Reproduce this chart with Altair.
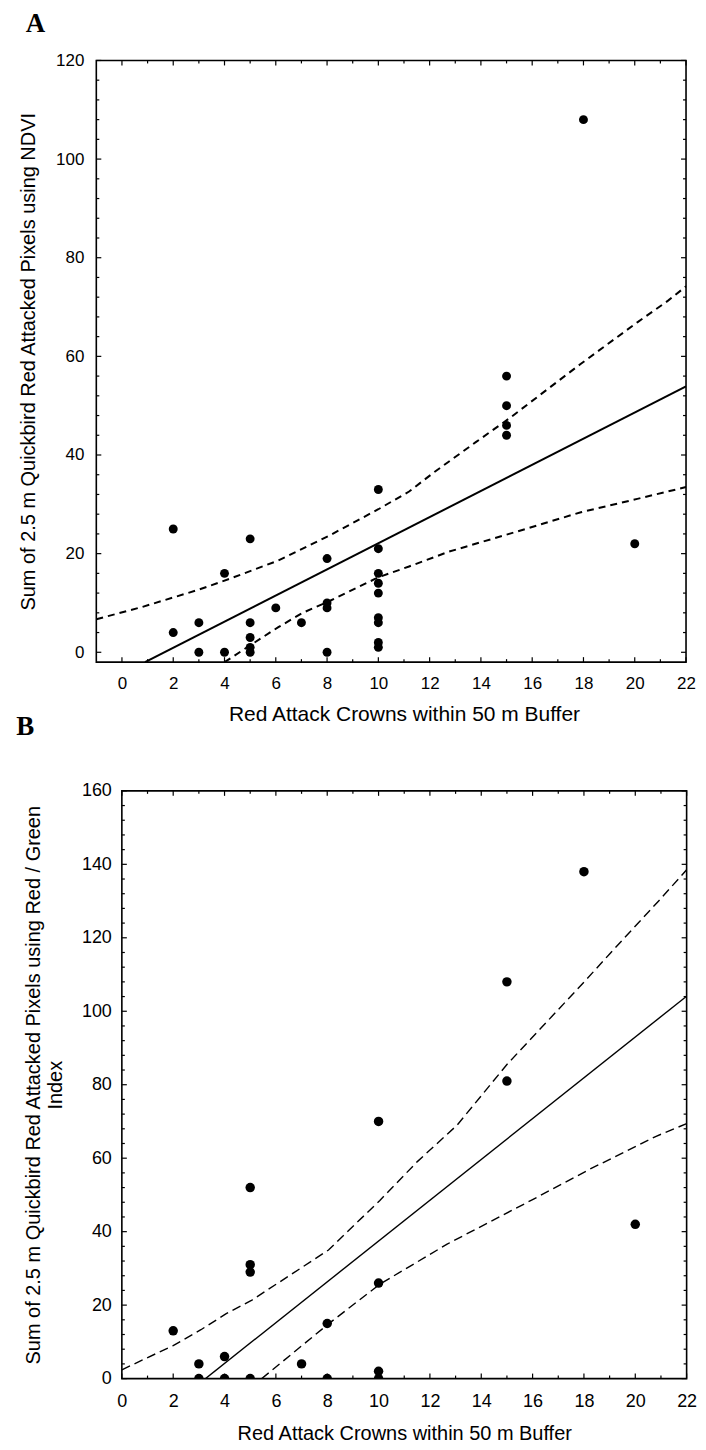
import altair as alt
import pandas as pd

# ---------------- Panel A (NDVI) ----------------
a_x = [2, 2, 3, 3, 4, 4, 5, 5, 5, 5, 5, 6, 7, 8, 8, 8, 8,
       10, 10, 10, 10, 10, 10, 10, 10, 10, 15, 15, 15, 15, 18, 20]
a_y = [25, 4, 6, 0, 16, 0, 23, 6, 3, 1, 0, 9, 6, 19, 10, 9, 0,
       33, 21, 16, 14, 12, 7, 6, 2, 1, 56, 50, 46, 44, 108, 22]
a_fit_x = [0.9, 22.0]
a_fit_y = [-2.0, 53.9]
a_up_x = [-1.0, 0.8, 3.0, 4.2, 6.1, 8.1, 10.0, 11.2, 12.2, 13.8, 15.1, 17.9, 20.1, 21.3, 22.0]
a_up_y = [6.7, 9.2, 12.7, 14.9, 18.6, 23.7, 29.0, 32.6, 36.6, 42.6, 47.4, 58.5, 66.9, 71.3, 74.2]
a_lo_x = [4.0, 5.0, 6.1, 7.05, 8.1, 10.0, 11.2, 12.75, 15.1, 17.9, 20.1, 22.0]
a_lo_y = [-2.0, 1.4, 5.1, 8.0, 10.4, 15.2, 17.4, 20.4, 24.0, 28.4, 31.1, 33.5]

# ---------------- Panel B (Red / Green) ----------------
b_x = [2, 3, 3, 4, 4, 5, 5, 5, 5, 7, 8, 8, 10, 10, 10, 10, 15, 15, 18, 20]
b_y = [13, 4, 0, 6, 0, 52, 31, 29, 0, 4, 15, 0, 70, 26, 2, 0, 108, 81, 138, 42]
b_fit_x = [3.26, 22.0]
b_fit_y = [0.0, 104.1]
b_up_x = [0.0, 2.0, 3.08, 4.05, 5.03, 8.05, 10.05, 11.5, 13.06, 15.0, 18.09, 19.0, 20.92, 22.0]
b_up_y = [2.4, 9.0, 13.3, 17.6, 21.2, 35.0, 48.5, 59.0, 69.0, 85.5, 108.6, 115.6, 130.1, 138.5]
b_lo_x = [5.45, 7.02, 8.05, 10.05, 12.67, 16.02, 18.2, 20.79, 22.0]
b_lo_y = [0.0, 9.0, 14.9, 25.7, 36.6, 48.8, 56.9, 65.9, 69.4]

x_title = "Red Attack Crowns within 50 m Buffer"
a_y_title = "Sum of 2.5 m Quickbird Red Attacked Pixels using NDVI"
b_y_title = ["Sum of 2.5 m Quickbird Red Attacked Pixels using Red / Green", "Index"]

x_major = list(range(0, 23, 2))
x_minor = list(range(1, 22, 2))
a_y_major = list(range(0, 121, 20))
a_y_minor = [v for v in range(0, 121, 4) if v % 20]
b_y_major = list(range(0, 161, 20))
b_y_minor = [v for v in range(0, 161, 4) if v % 20]

FONT = "Liberation Sans"


def panel(px, py, fx, fy, ux, uy, lx, ly, xdom, ydom, W, H, ymaj, ymin,
          ytitle, letter, letter_dx, letter_offset, lab_size, pt_size,
          line_w, dash, ylab_pad, ytitle_pad, xlab_pad, xtitle_pad, xtitle_size,
          xtitle_x=None):
    xs = alt.Scale(domain=xdom, nice=False, zero=False)
    ys = alt.Scale(domain=ydom, nice=False, zero=False)
    xkw = dict(values=x_major, title=x_title, ticks=False, tickSize=0,
               domain=False, grid=False, labelFlush=False, labelOverlap=False,
               labelFont=FONT, labelFontSize=lab_size, labelColor="black",
               labelPadding=xlab_pad, titleFont=FONT, titleFontSize=xtitle_size,
               titleFontWeight="normal", titleColor="black",
               titlePadding=xtitle_pad)
    if xtitle_x is not None:
        xkw["titleX"] = xtitle_x
    xax = alt.Axis(**xkw)
    yax = alt.Axis(values=ymaj, title=ytitle, ticks=False, tickSize=0,
                   domain=False, grid=False, labelFlush=False, labelOverlap=False,
                   labelFont=FONT, labelFontSize=lab_size, labelColor="black",
                   labelPadding=ylab_pad, titleFont=FONT, titleFontSize=20,
                   titleFontWeight="normal", titleColor="black",
                   titlePadding=ytitle_pad, titleLineHeight=22)

    X = lambda: alt.X("x:Q", scale=xs, axis=xax)
    Y = lambda: alt.Y("y:Q", scale=ys, axis=yax)

    pts = pd.DataFrame({"x": px, "y": py})
    points = alt.Chart(pts).mark_circle(color="black", opacity=1, size=pt_size, clip=True).encode(
        x=X(), y=Y())

    def line(xv, yv, dashed):
        df = pd.DataFrame({"x": xv, "y": yv})
        kw = dict(color="black", strokeWidth=line_w, clip=True)
        if dashed:
            kw["strokeDash"] = dash
        return alt.Chart(df).mark_line(**kw).encode(x=X(), y=Y())

    def xticks(vals, length):
        df = pd.DataFrame({"x": vals})
        base = alt.Chart(df).mark_rule(color="black", strokeWidth=1.2)
        bottom = base.encode(x=X(), y=alt.value(H), y2=alt.value(H - length))
        top = base.encode(x=X(), y=alt.value(0), y2=alt.value(length))
        return [bottom, top]

    def yticks(vals, length):
        df = pd.DataFrame({"y": vals})
        base = alt.Chart(df).mark_rule(color="black", strokeWidth=1.2)
        left = base.encode(y=Y(), x=alt.value(0), x2=alt.value(length))
        right = base.encode(y=Y(), x=alt.value(W), x2=alt.value(W - length))
        return [left, right]

    layers = [points, line(fx, fy, False), line(ux, uy, True), line(lx, ly, True)]
    layers += xticks(x_major, 5) + xticks(x_minor, 3)
    layers += yticks(ymaj, 5) + yticks(ymin, 3)

    return alt.layer(*layers).properties(
        width=W, height=H,
        title=alt.TitleParams(text=letter, anchor="start", frame="group",
                              dx=letter_dx, offset=letter_offset,
                              font="Liberation Serif", fontSize=27,
                              fontWeight="bold", color="black",
                              baseline="alphabetic"),
        view=alt.ViewBackground(stroke="black", strokeWidth=1.6),
    )


W_A, W_B = 591, 566

chart_a = panel(a_x, a_y, a_fit_x, a_fit_y, a_up_x, a_up_y, a_lo_x, a_lo_y,
                [-1, 22], [-2, 120], W_A, 603, a_y_major, a_y_minor,
                a_y_title, "A", -70.7, -7.9, 17, 80, 2.0, [7, 5], 12.5, 17,
                13.5, 12, 21, xtitle_x=W_A * 12 / 23)

chart_b = panel(b_x, b_y, b_fit_x, b_fit_y, b_up_x, b_up_y, b_lo_x, b_lo_y,
                [0, 22], [0, 160], W_B, 589, b_y_major, b_y_minor,
                b_y_title, "B", -105.8, 20.1, 18, 90, 1.4, [9, 5], 10.5, 16,
                14, 13, 20)

spacer = alt.Chart(pd.DataFrame({"s": [0]})).mark_point(size=0, opacity=0).properties(
    width=1, height=1, view=alt.ViewBackground(strokeOpacity=0))

row_b = alt.concat(spacer, chart_b, columns=2, spacing=24.6, bounds="flush", align="none")

chart = alt.vconcat(chart_a, row_b, spacing=-14).properties(
    padding={"left": 7.5, "top": 0, "right": 0, "bottom": 0}
).configure_view(stroke="black")

chart.save("out.html", embed_options={"renderer": "svg", "actions": False})
